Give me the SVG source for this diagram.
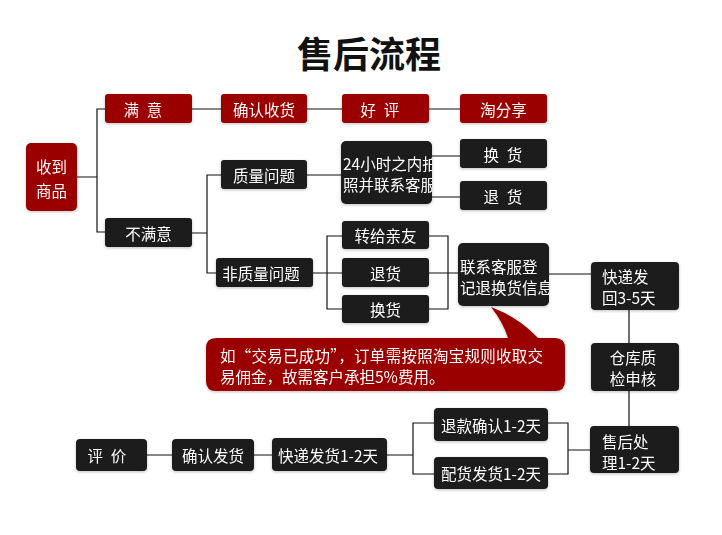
<svg xmlns="http://www.w3.org/2000/svg" width="722" height="535" viewBox="0 0 722 535">
<style>
.r{fill:#9b0000}
.d{fill:#1b1b1d}
.t{fill:#fff;font-family:"Noto Sans CJK SC","Liberation Sans",sans-serif;font-size:15.5px;dominant-baseline:central}
.c{text-anchor:middle}
.ln{stroke:#111;stroke-width:1.2;fill:none}
</style>
<defs>
<filter id="sh" x="-20%" y="-20%" width="140%" height="140%">
<feDropShadow dx="0" dy="1" stdDeviation="1.5" flood-color="#000" flood-opacity="0.25"/>
</filter>
<clipPath id="c24"><rect x="341" y="141" width="91" height="63" rx="5"/></clipPath>
<clipPath id="clx"><rect x="458" y="243" width="91" height="63" rx="5"/></clipPath>
</defs>
<rect width="722" height="535" fill="#fff"/>
<text x="369" y="52" text-anchor="middle" dominant-baseline="central" font-family="'Noto Sans CJK SC','Liberation Sans',sans-serif" font-size="36" font-weight="bold" fill="#111">售后流程</text>

<g id="connectors" class="ln">
<path d="M77,177H97M105,109H97V232H105"/>
<path d="M192,109H221M307,109H342M429,109H460"/>
<path d="M192,233H207M221,175H207V273H216"/>
<path d="M307,175H341M432,156H460M432,197H460"/>
<path d="M313,273H342M342,236H327V309H342M429,236H448V309H429M429,273H458"/>
<path d="M549,274H591M629,310V343M629,391V426"/>
<path d="M590,450H568M548,423H568V474H548"/>
<path d="M434,423H413V474H434M387,455H413M254,455H272M147,455H172"/>
</g>

<g id="n-shoudao" filter="url(#sh)"><rect class="r" x="26" y="143" width="51" height="68" rx="5"/><text class="t c" x="51.5" y="166" font-size="18">收到</text><text class="t c" x="51.5" y="190" font-size="18">商品</text></g>
<g id="n-manyi" filter="url(#sh)"><rect class="r" x="105" y="94" width="87" height="29" rx="3"/><text class="t c" x="143" y="108.5">满&#x2002;意</text></g>
<g id="n-queren" filter="url(#sh)"><rect class="r" x="221" y="94" width="86" height="29" rx="3"/><text class="t c" x="264" y="108.5">确认收货</text></g>
<g id="n-haoping" filter="url(#sh)"><rect class="r" x="342" y="94" width="87" height="29" rx="3"/><text class="t c" x="380" y="108.5">好&#x2002;评</text></g>
<g id="n-taofx" filter="url(#sh)"><rect class="r" x="460" y="94" width="87" height="29" rx="3"/><text class="t c" x="503.5" y="108.5">淘分享</text></g>

<g id="n-bumanyi" filter="url(#sh)"><rect class="d" x="105" y="218" width="87" height="29" rx="3"/><text class="t c" x="148.5" y="232.5">不满意</text></g>
<g id="n-zhiliang" filter="url(#sh)"><rect class="d" x="221" y="160" width="86" height="29" rx="3"/><text class="t c" x="264" y="174.5">质量问题</text></g>
<g id="n-24h" filter="url(#sh)"><rect class="d" x="341" y="141" width="91" height="63" rx="5"/><g clip-path="url(#c24)"><text class="t" x="343" y="163" font-size="16">24小时之内拍</text><text class="t" x="343" y="184" font-size="16">照并联系客服</text></g></g>
<g id="n-huanhuo1" filter="url(#sh)"><rect class="d" x="460" y="139" width="87" height="29" rx="3"/><text class="t c" x="503" y="153.5">换&#x2002;货</text></g>
<g id="n-tuihuo1" filter="url(#sh)"><rect class="d" x="460" y="181" width="87" height="29" rx="3"/><text class="t c" x="503" y="195.5">退&#x2002;货</text></g>

<g id="n-feizhiliang" filter="url(#sh)"><rect class="d" x="216" y="258" width="97" height="29" rx="3"/><text class="t c" x="261" y="272.5">非质量问题</text></g>
<g id="n-zhuangei" filter="url(#sh)"><rect class="d" x="342" y="221" width="87" height="28" rx="3"/><text class="t c" x="385.5" y="235">转给亲友</text></g>
<g id="n-tuihuo2" filter="url(#sh)"><rect class="d" x="342" y="258" width="87" height="29" rx="3"/><text class="t c" x="385.5" y="272.5">退货</text></g>
<g id="n-huanhuo2" filter="url(#sh)"><rect class="d" x="342" y="295" width="87" height="28" rx="3"/><text class="t c" x="385.5" y="309">换货</text></g>
<g id="n-lianxi" filter="url(#sh)"><rect class="d" x="458" y="243" width="91" height="63" rx="5"/><g clip-path="url(#clx)"><text class="t" x="460" y="266">联系客服登</text><text class="t" x="460" y="287">记退换货信息</text></g></g>

<g id="n-kuaidifh" filter="url(#sh)"><rect class="d" x="591" y="262" width="88" height="48" rx="4"/><text class="t" x="602" y="276">快递发</text><text class="t" x="602" y="297">回3-5天</text></g>
<g id="n-cangku" filter="url(#sh)"><rect class="d" x="591" y="343" width="88" height="48" rx="4"/><text class="t c" x="633" y="357">仓库质</text><text class="t c" x="633" y="378">检申核</text></g>
<g id="n-shouhou" filter="url(#sh)"><rect class="d" x="590" y="426" width="89" height="47" rx="4"/><text class="t" x="602" y="441">售后处</text><text class="t" x="602" y="462">理1-2天</text></g>

<g id="n-tuikuan" filter="url(#sh)"><rect class="d" x="434" y="408" width="114" height="33" rx="4"/><text class="t c" x="491" y="424.5">退款确认1-2天</text></g>
<g id="n-peihuo" filter="url(#sh)"><rect class="d" x="434" y="457" width="114" height="32" rx="4"/><text class="t c" x="491" y="473">配货发货1-2天</text></g>
<g id="n-kuaidifahuo" filter="url(#sh)"><rect class="d" x="272" y="438" width="115" height="33" rx="4"/><text class="t c" x="328" y="455">快递发货1-2天</text></g>
<g id="n-querenfh" filter="url(#sh)"><rect class="d" x="172" y="439" width="82" height="32" rx="4"/><text class="t c" x="213" y="455">确认发货</text></g>
<g id="n-pingjia" filter="url(#sh)"><rect class="d" x="76" y="439" width="71" height="32" rx="4"/><text class="t c" x="107" y="455">评&#x2002;价</text></g>

<g id="callout" filter="url(#sh)">
<path class="r" d="M216,338H508Q503,322 491,307Q520,318 538,338H555Q565,338 565,348V381Q565,391 555,391H216Q206,391 206,381V348Q206,338 216,338Z"/>
<text class="t" x="220" y="355" textLength="323" lengthAdjust="spacing">如“交易已成功”，订单需按照淘宝规则收取交</text>
<text class="t" x="220" y="376">易佣金，故需客户承担5%费用。</text>
</g>
</svg>
